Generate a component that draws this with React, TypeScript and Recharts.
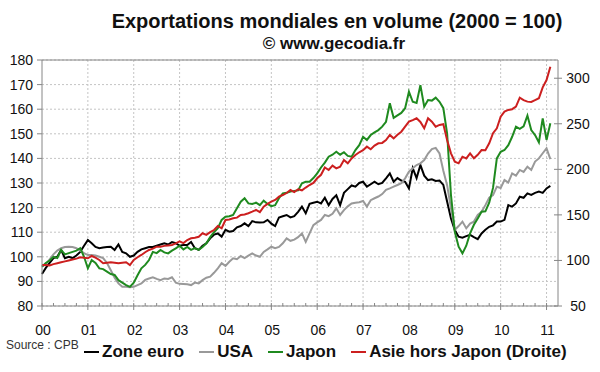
import { LineChart, Line, XAxis, YAxis, CartesianGrid, ReferenceLine } from 'recharts';

// indices 2000 = 100, mensuel, janv. 2000 -> fév. 2011
const yearLabels = ['00', '01', '02', '03', '04', '05', '06', '07', '08', '09', '10', '11'];
const leftTicks = [80, 90, 100, 110, 120, 130, 140, 150, 160, 170, 180];
const rightTicks = [50, 100, 150, 200, 250, 300];

const zoneEuro = [
  93, 95.5, 97.5, 99.5, 100, 102.8, 99.4, 100, 99.5, 100.5, 102, 104.5,
  106.8, 105.5, 104, 103.5, 103.8, 104, 104.1, 102.8, 105, 102, 101.4, 100,
  100.5, 102, 103, 103.5, 104, 104, 104.5, 105, 105.5, 105, 106, 105.5,
  104.5, 104.8, 104.8, 106, 103.5, 102.8, 104.5, 105.5, 107.5, 109, 109.5, 108.2,
  111, 110.2, 110.5, 112, 112.5, 113.6, 112.5, 114.5, 114, 113.9, 114, 115,
  113.5, 112.5, 116, 116.5, 117, 116, 116.5, 118.3, 120.4, 117.7, 121.5, 122,
  122.4, 121.7, 124, 121, 123.5, 125, 121, 126, 127.5, 129, 128.5, 130,
  130.5, 128.5, 129.5, 130.5, 129.5, 130, 131.9, 133.9, 130.5, 132, 131, 130.5,
  127.8, 136, 132, 137.3, 133, 131.2, 131.5, 130.8, 131, 129.2, 122.4, 115.6,
  110.9, 108.2, 107.8, 108.4, 108.9, 108, 107.2, 109.5, 111, 112.2, 112.8, 114.3,
  114.3, 115, 121, 120.4, 121.7, 124.4, 124, 125.8, 125.2, 126, 126.5, 126, 127.8, 128.8,
];

const usa = [
  96, 97, 99, 101, 102.5, 103.5, 104, 104.1, 104, 103.5, 102.5, 101.5,
  100.7, 100.7, 100.5, 100, 99.5, 97.5, 94.5, 91.5, 89.2, 87.8, 87.8, 87.6,
  87.8, 88.5, 89.2, 90.6, 91.2, 91.7, 91, 90.5, 91.2, 91, 91.7, 89.5,
  89, 88.9, 88.8, 88.5, 89.5, 89.2, 90.5, 91.5, 91.9, 93.5, 95.3, 97.4,
  96.3, 98, 99.4, 99, 100.3, 99.5, 100.5, 101.4, 100.5, 100, 102, 103,
  104.1, 103.5, 104, 105.5, 107.5, 106.5, 107, 108, 109.5, 106.1, 109.5, 112.9,
  114, 115, 117, 116.5, 117.5, 119.7, 117, 119, 120.5, 121.7, 122, 122.2,
  122.7, 120.4, 123, 123.8, 124.5, 125.5, 127.2, 127.8, 128.5, 129.2, 129.9, 131.9,
  134.6, 136, 137.3, 138, 139.3, 142, 143.8, 144.3, 142, 135, 129, 119.7,
  110.9, 112.5, 114.3, 111.6, 113.5, 114.3, 117, 118.3, 121, 124, 125.1, 128.5,
  128, 131.2, 130.2, 133.9, 133, 135.3, 134.5, 136.6, 135.3, 138.7, 140, 142.1, 144.1, 139.7,
];

const japon = [
  96, 97.5, 98.5, 100, 99.5, 102.8, 101, 101.5, 102, 102.5, 103.5, 100,
  95.3, 98.7, 97.5, 95.3, 95, 94, 93, 92.6, 90.5, 89.5, 88.5, 87.8,
  89.5, 92.5, 95.3, 96.7, 98.7, 102, 101.5, 102.8, 101.8, 101.4, 102.5, 103.4,
  104.5, 103, 104, 102.8, 103.5, 102.8, 104, 105.5, 108, 110, 111.6, 115,
  116.3, 116.5, 117, 119.7, 122.4, 123.8, 121.7, 121.5, 122, 121, 122.8, 121.5,
  120.6, 121, 123.8, 125.8, 126, 126.5, 126.8, 127, 129.9, 130.5, 130.5, 132,
  133.9, 136.3, 138.3, 140.7, 141.5, 142.7, 141.5, 142.5, 141, 140.7, 143.4, 145.4,
  148.8, 147.5, 149.5, 150.6, 151.5, 152.9, 154.9, 162.4, 156.5, 157.5, 158.5, 160.4,
  167.1, 163, 162.5, 169.8, 161, 163.7, 163.5, 164.7, 163, 160.4, 150, 125.1,
  110.2, 104.1, 101.4, 104.5, 109.5, 113, 115.6, 118.3, 118.5, 122, 128, 140,
  142.7, 143.4, 145.4, 148.8, 152.9, 152, 153, 157.4, 151.5, 149.5, 146.5, 156.3, 147.5, 154.3,
];

// axe de droite
const asie = [
  95, 95, 94.5, 96, 97, 98, 99, 100, 101, 102, 103.5, 103,
  102.4, 104.9, 103, 100.5, 97, 97.5, 98, 97.5, 97, 97.5, 98, 95,
  100.5, 103.5, 106, 109, 111.5, 113, 115.1, 115, 116, 116.5, 117, 118.8,
  121, 119, 122.4, 124.3, 125, 126, 129.8, 128, 131, 133.4, 137.8, 135.3,
  144.4, 145, 146.3, 147, 149.9, 150.5, 151.8, 153.5, 155.4, 153, 159, 162,
  164.5, 166.4, 170, 171.8, 174, 177.3, 175, 178.1, 177, 180, 182.8, 185,
  190.2, 194, 202, 199.3, 204, 201, 202.9, 210.3, 206.6, 212, 215.8, 218.7,
  221, 224.9, 222, 226, 228.6, 229, 232.2, 237.7, 234, 238, 241.3, 246.8,
  252.3, 254, 256, 252, 245, 256, 252.3, 246.8, 248.7, 249.5, 232, 217.6,
  208.4, 206.6, 213.9, 212, 217.6, 212.1, 216, 221.2, 221, 228.6, 239.6, 245,
  257.8, 263.3, 265.2, 266, 268.8, 278.7, 276, 274.3, 274, 276, 278, 290, 298, 312.7,
];

const data = zoneEuro.map((v, i) => ({
  m: i,
  zoneEuro: v,
  usa: usa[i],
  japon: japon[i],
  asie: asie[i],
}));

const yearTicks = yearLabels.map((_, i) => i * 12);
const quarterTicks = Array.from({ length: 45 }, (_, i) => i * 3);

const AXIS = '#868686';
const GRID = '#c4c4c4';
const FONT = "'Liberation Sans', Arial, sans-serif";

const series = [
  { key: 'zoneEuro', name: 'Zone euro', color: '#000000', axis: 'left' },
  { key: 'usa', name: 'USA', color: '#999999', axis: 'left' },
  { key: 'japon', name: 'Japon', color: '#1f8a1f', axis: 'left' },
  { key: 'asie', name: 'Asie hors Japon (Droite)', color: '#cc1f1f', axis: 'right' },
];

function XTick(props: any) {
  const { x, y, payload } = props;
  const major = payload.value % 12 === 0;
  return (
    <g>
      <line x1={x} x2={x} y1={y - 3} y2={major ? y + 4 : y} stroke={AXIS} />
      {major && (
        <text x={x + 1} y={y + 29} textAnchor="middle" fontSize={14} fontFamily={FONT} fill="#111">
          {yearLabels[payload.value / 12]}
        </text>
      )}
    </g>
  );
}

function RightTick(props: any) {
  const { x, y, payload } = props;
  return (
    <g>
      <line x1={x - 4} x2={x + 4} y1={y} y2={y} stroke={AXIS} />
      <text x={x + 20} y={y} dy="0.355em" textAnchor="middle" fontSize={14} fontFamily={FONT} fill="#111">
        {payload.value}
      </text>
    </g>
  );
}

export default function App() {
  return (
    <div style={{ position: 'absolute', left: 0, top: 0, width: 600, height: 372, background: '#fff', fontFamily: FONT }}>
      <div style={{ position: 'absolute', top: 10, left: 337, transform: 'translateX(-50%)', whiteSpace: 'nowrap', fontWeight: 'bold', fontSize: 20, color: '#111' }}>
        Exportations mondiales en volume (2000 = 100)
      </div>
      <div style={{ position: 'absolute', top: 34, left: 334, transform: 'translateX(-50%)', whiteSpace: 'nowrap', fontWeight: 'bold', fontSize: 17, color: '#111' }}>
        © www.gecodia.fr
      </div>

      <LineChart width={600} height={372} data={data} margin={{ top: 60, right: 0, bottom: 26, left: 0 }}>
        <CartesianGrid yAxisId="left" vertical={false} stroke={GRID} strokeDasharray="2 2" />
        {yearTicks.slice(1).map((t) => (
          <ReferenceLine key={t} x={t} yAxisId="left" stroke={GRID} strokeDasharray="2 2" />
        ))}
        <ReferenceLine y={180} yAxisId="left" stroke={AXIS} />
        <XAxis
          dataKey="m"
          type="number"
          domain={[0, 135]}
          ticks={quarterTicks}
          interval={0}
          height={40}
          tickSize={0}
          tickMargin={0}
          tickLine={false}
          axisLine={{ stroke: AXIS }}
          tick={(p: any) => <XTick {...p} />}
        />
        <YAxis
          yAxisId="left"
          domain={[80, 180]}
          ticks={leftTicks}
          interval={0}
          width={42}
          tickSize={5}
          tickMargin={4}
          axisLine={{ stroke: AXIS }}
          tickLine={{ stroke: AXIS }}
          tick={{ fontSize: 14, fill: '#111', fontFamily: FONT }}
        />
        <YAxis
          yAxisId="right"
          orientation="right"
          domain={[50, 320]}
          ticks={rightTicks}
          interval={0}
          width={42}
          tickSize={0}
          tickMargin={0}
          tickLine={false}
          axisLine={{ stroke: AXIS }}
          tick={(p: any) => <RightTick {...p} />}
        />
        {series.map((s) => (
          <Line
            key={s.key}
            yAxisId={s.axis}
            type="linear"
            dataKey={s.key}
            stroke={s.color}
            strokeWidth={2}
            dot={false}
            isAnimationActive={false}
          />
        ))}
      </LineChart>

      <div style={{ position: 'absolute', left: 6, top: 338, fontFamily: "'Liberation Sans Narrow', 'Liberation Sans', Arial", fontSize: 12, color: '#333' }}>
        Source : CPB
      </div>
      <div style={{ position: 'absolute', left: 84, top: 342, display: 'flex', alignItems: 'center', gap: 15, whiteSpace: 'nowrap', fontWeight: 'bold', fontSize: 17, color: '#111' }}>
        {series.map((s) => (
          <div key={s.key} style={{ display: 'flex', alignItems: 'center' }}>
            <span style={{ display: 'inline-block', width: 15, height: 2, background: s.color, marginRight: 3 }} />
            <span>{s.name}</span>
          </div>
        ))}
      </div>
    </div>
  );
}
